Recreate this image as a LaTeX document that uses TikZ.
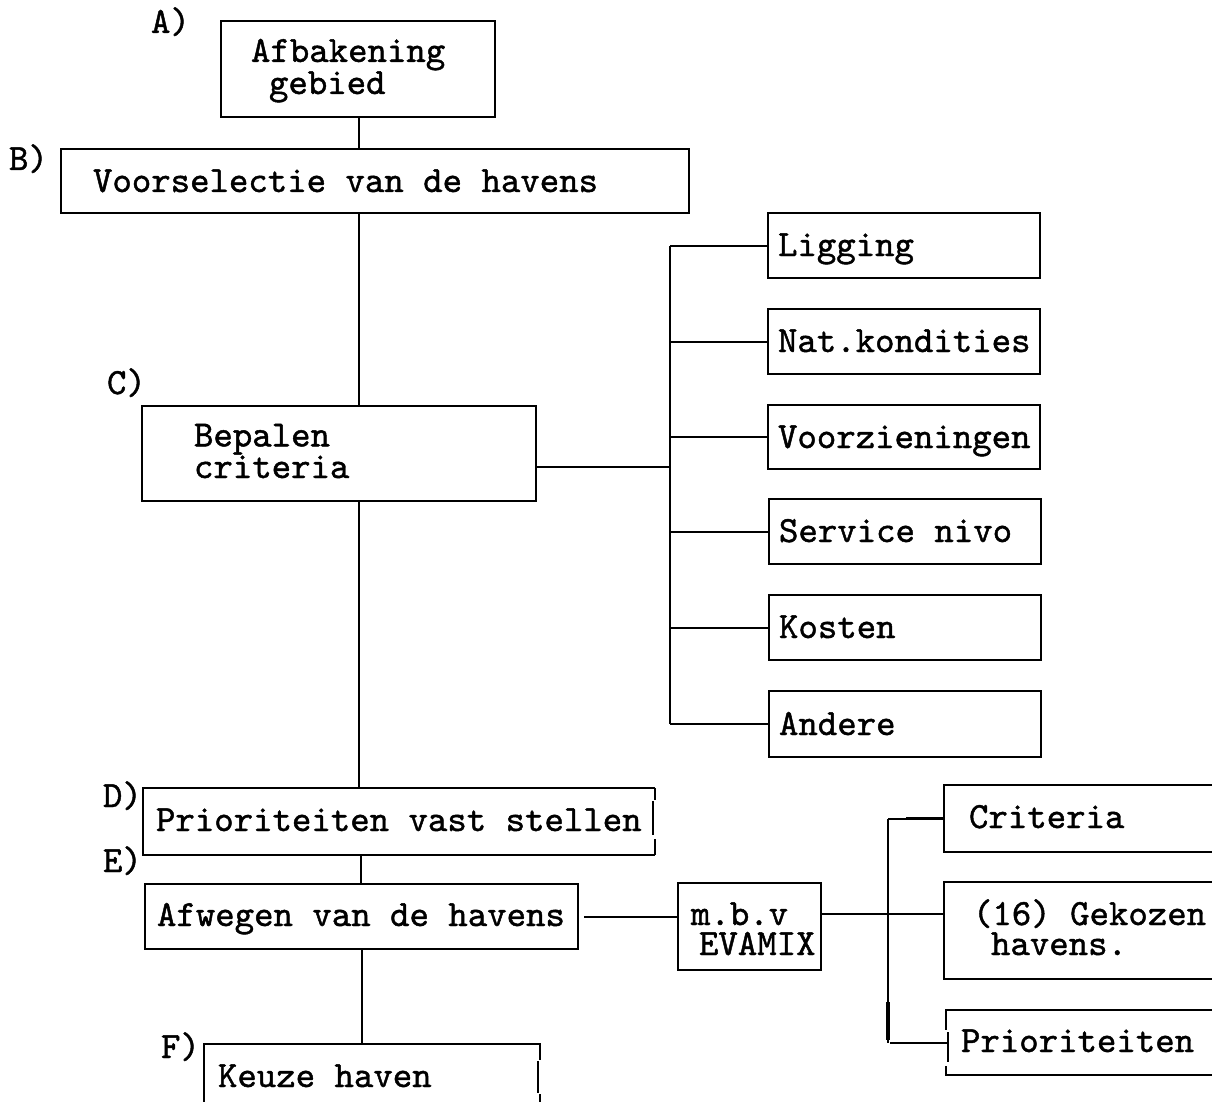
\documentclass[tikz,border=0pt]{standalone}
\usepackage{fontspec}
\newfontfamily\typewriter{lmmono10-regular.otf}[FakeBold=1.2]
\begin{document}
\begin{tikzpicture}[x=1pt,y=-1pt,
  line width=2pt,
  box/.style={draw, inner sep=0pt, anchor=north west},
  frame/.style={inner sep=0pt, anchor=north west},
  txt/.style={anchor=base west, inner sep=0pt, align=left,
    font=\typewriter\fontsize{37}{30}\selectfont},
]
\useasboundingbox (0,0) rectangle (1212,1102);
\clip (0,0) rectangle (1212,1102);

% main column of steps
\node[box, minimum width=274pt, minimum height=96pt] (boxA) at (220,20) {};
\node[box, minimum width=628pt, minimum height=64pt] (boxB) at (60,148) {};
\node[box, minimum width=394pt, minimum height=95pt] (boxC) at (141,405) {};
\node[frame, minimum width=510pt, minimum height=65pt] (boxD) at (143,788) {};
\draw (boxD.north east) -- (boxD.north west) -- (boxD.south west) -- (boxD.south east);
\draw (boxD.north east) -- ++(0,12);
\draw ([xshift=-2pt]boxD.north east) ++(0,13) -- ++(0,34);
\draw (boxD.south east) -- ++(0,-16);
\node[box, minimum width=433pt, minimum height=65pt] (boxE) at (144,883) {};
\node[frame, minimum width=334pt, minimum height=80pt] (boxF) at (204,1044) {};
\draw (boxF.south west) -- (boxF.north west) -- (boxF.north east) -- ++(0,16);
\draw ([xshift=-2pt]boxF.north east) ++(0,17) -- ++(0,32);
\draw (boxF.north east) ++(0,50) -- (boxF.south east);

% step letters
\node[txt] (lblA) at (150,33) {A)};
\node[txt] (lblB) at (8,170) {B)};
\node[txt] (lblC) at (106,394) {C)};
\node[txt] (lblD) at (102,807) {D)};
\node[txt] (lblE) at (102,872) {E)};
\node[txt] (lblF) at (160,1058) {F)};

% step texts (two-line texts are placed by the baseline of their last line)
\node[txt] (tA) at (250,94) {Afbakening\\\hspace*{18pt}gebied};
\node[txt] (tB) at (92,192) {Voorselectie van de havens};
\node[txt] (tC) at (193,478) {Bepalen\\criteria};
\node[txt] (tD) at (155,831) {Prioriteiten vast stellen};
\node[txt] (tE) at (156,926) {Afwegen van de havens};
\node[txt] (tF) at (217,1087) {Keuze haven};

% criteria list
\node[box, minimum width=272pt, minimum height=65pt] (r1) at (767,212) {};
\node[box, minimum width=272pt, minimum height=65pt] (r2) at (767,308) {};
\node[box, minimum width=272pt, minimum height=64pt] (r3) at (767,404) {};
\node[box, minimum width=272pt, minimum height=65pt] (r4) at (768,498) {};
\node[box, minimum width=272pt, minimum height=65pt] (r5) at (768,594) {};
\node[box, minimum width=272pt, minimum height=66pt] (r6) at (768,690) {};
\node[txt] (t1) at (777,256) {Ligging};
\node[txt] (t2) at (777,352) {Nat.kondities};
\node[txt] (t3) at (777,448) {Voorzieningen};
\node[txt] (t4) at (778,542) {Service nivo};
\node[txt] (t5) at (778,638) {Kosten};
\node[txt] (t6) at (778,735) {Andere};

% weighing method and its inputs
\node[box, minimum width=143pt, minimum height=87pt] (boxM) at (677,882) {};
\node[txt] (tM) at (690,955) {m.b.v\\\hspace*{8pt}EVAMIX};
\node[frame, minimum width=300pt, minimum height=65pt] (s1) at (944,785) {};
\node[frame, minimum width=300pt, minimum height=95pt] (s2) at (944,882) {};
\node[frame, minimum width=300pt, minimum height=63pt] (s3) at (946,1010) {};
\foreach \s in {s1,s2}
  \draw (\s.north east) -- (\s.north west) -- (\s.south west) -- (\s.south east);
\draw (s3.north east) -- (s3.north west) -- ++(0,20);
\draw ([xshift=2pt]s3.north west) ++(0,22) -- ++(0,30);
\draw (s3.south west) ++(0,-9) -- (s3.south west) -- (s3.south east);
\node[txt] (u1) at (968,828) {Criteria};
\node[txt] (u2) at (972,955) {(16) Gekozen\\\hspace*{18pt}havens.};
\node[txt] (u4) at (960,1052) {Prioriteiten};

% connectors
\coordinate (spine) at (359,0);
\coordinate (cjoin) at (670,467);
\coordinate (mjoin) at (888,914);
\draw (spine |- boxA.south) -- (spine |- boxB.north);
\draw (spine |- boxB.south) -- (spine |- boxC.north);
\draw (spine |- boxC.south) -- (spine |- boxD.north);
\draw ([xshift=2pt]spine |- boxD.south) -- ([xshift=2pt]spine |- boxE.north);
\draw ([xshift=3pt]spine |- boxE.south) -- ([xshift=3pt]spine |- boxF.north);

\draw (cjoin -| boxC.east) -- (cjoin);
\draw (r1.west -| cjoin) -- (r6.west -| cjoin);
\foreach \r in {r1,r2,r3,r4,r5,r6}
  \draw (\r.west -| cjoin) -- (\r.west);

\draw ([xshift=5pt]boxE.east) -- (boxE.east -| boxM.west);
\draw (mjoin -| boxM.east) -- (mjoin);
\draw (s1.west -| mjoin) -- (s3.west -| mjoin);
\draw (s1.west -| mjoin) -- (s1.west);
\draw[line width=3.2pt] ([xshift=18pt]s1.west -| mjoin) -- (s1.west);
\draw (mjoin) -- (mjoin -| s2.west);
\draw ([xshift=2pt]s3.west -| mjoin) -- ([xshift=2pt]s3.west);
\draw[line width=3.2pt] ([yshift=3pt]s3.west -| mjoin) -- ++(0,-38);
\end{tikzpicture}
\end{document}
